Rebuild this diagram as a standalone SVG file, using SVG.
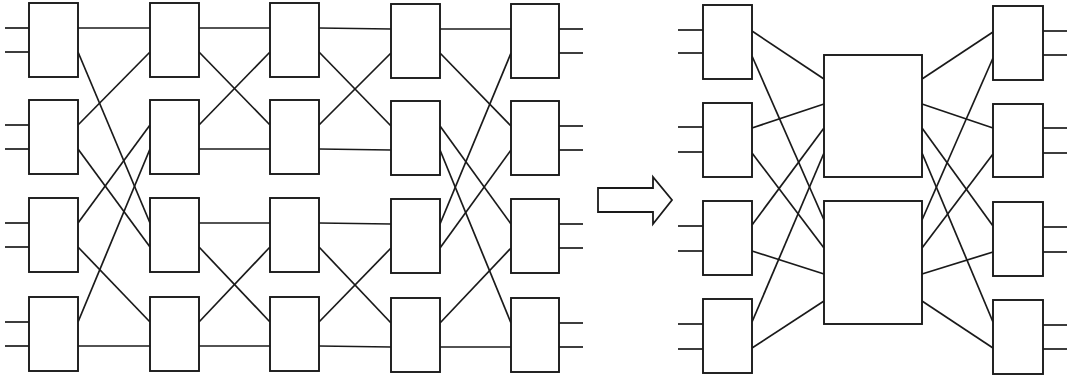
<svg xmlns="http://www.w3.org/2000/svg" width="1077" height="378" viewBox="0 0 1077 378">
<style>
.b{fill:#fff;stroke:#1a1a1a;stroke-width:1.9}
.c line,.s line{stroke:#1a1a1a;stroke-width:1.7;fill:none}
.a{fill:#fff;stroke:#1a1a1a;stroke-width:1.8;stroke-linejoin:miter}
</style>
<rect width="1077" height="378" fill="#fff"/>
<g id="connectors" class="c">
<line x1="78" y1="28" x2="150" y2="28"/>
<line x1="78" y1="52" x2="150" y2="223"/>
<line x1="78" y1="125" x2="150" y2="52"/>
<line x1="78" y1="149" x2="150" y2="247"/>
<line x1="78" y1="223" x2="150" y2="125"/>
<line x1="78" y1="247" x2="150" y2="322"/>
<line x1="78" y1="322" x2="150" y2="149"/>
<line x1="78" y1="346" x2="150" y2="346"/>
<line x1="199" y1="28" x2="270" y2="28"/>
<line x1="199" y1="52" x2="270" y2="125"/>
<line x1="199" y1="125" x2="270" y2="52"/>
<line x1="199" y1="149" x2="270" y2="149"/>
<line x1="199" y1="223" x2="270" y2="223"/>
<line x1="199" y1="247" x2="270" y2="322"/>
<line x1="199" y1="322" x2="270" y2="247"/>
<line x1="199" y1="346" x2="270" y2="346"/>
<line x1="319" y1="28" x2="391" y2="29"/>
<line x1="319" y1="52" x2="391" y2="126"/>
<line x1="319" y1="125" x2="391" y2="53"/>
<line x1="319" y1="149" x2="391" y2="150"/>
<line x1="319" y1="223" x2="391" y2="224"/>
<line x1="319" y1="247" x2="391" y2="323"/>
<line x1="319" y1="322" x2="391" y2="248"/>
<line x1="319" y1="346" x2="391" y2="347"/>
<line x1="440" y1="29" x2="511" y2="29"/>
<line x1="440" y1="53" x2="511" y2="126"/>
<line x1="440" y1="224" x2="511" y2="53"/>
<line x1="440" y1="248" x2="511" y2="150"/>
<line x1="440" y1="126" x2="511" y2="224"/>
<line x1="440" y1="323" x2="511" y2="248"/>
<line x1="440" y1="150" x2="511" y2="323"/>
<line x1="440" y1="347" x2="511" y2="347"/>
<line x1="752" y1="31" x2="824" y2="79"/>
<line x1="752" y1="56" x2="824" y2="220"/>
<line x1="752" y1="128" x2="824" y2="104"/>
<line x1="752" y1="153" x2="824" y2="248"/>
<line x1="752" y1="225" x2="824" y2="128"/>
<line x1="752" y1="251" x2="824" y2="274"/>
<line x1="752" y1="322" x2="824" y2="153"/>
<line x1="752" y1="348" x2="824" y2="301"/>
<line x1="922" y1="79" x2="993" y2="32"/>
<line x1="922" y1="220" x2="993" y2="58"/>
<line x1="922" y1="104" x2="993" y2="128"/>
<line x1="922" y1="248" x2="993" y2="154"/>
<line x1="922" y1="128" x2="993" y2="226"/>
<line x1="922" y1="274" x2="993" y2="252"/>
<line x1="922" y1="153" x2="993" y2="322"/>
<line x1="922" y1="301" x2="993" y2="348"/>
</g>
<g id="stubs" class="s">
<line x1="5" y1="28" x2="29" y2="28"/><line x1="5" y1="52" x2="29" y2="52"/>
<line x1="5" y1="125" x2="29" y2="125"/><line x1="5" y1="149" x2="29" y2="149"/>
<line x1="5" y1="223" x2="29" y2="223"/><line x1="5" y1="247" x2="29" y2="247"/>
<line x1="5" y1="322" x2="29" y2="322"/><line x1="5" y1="346" x2="29" y2="346"/>
<line x1="559" y1="29" x2="583" y2="29"/><line x1="559" y1="53" x2="583" y2="53"/>
<line x1="559" y1="126" x2="583" y2="126"/><line x1="559" y1="150" x2="583" y2="150"/>
<line x1="559" y1="224" x2="583" y2="224"/><line x1="559" y1="248" x2="583" y2="248"/>
<line x1="559" y1="323" x2="583" y2="323"/><line x1="559" y1="347" x2="583" y2="347"/>
<line x1="678" y1="30" x2="703" y2="30"/><line x1="678" y1="53" x2="703" y2="53"/>
<line x1="678" y1="127" x2="703" y2="127"/><line x1="678" y1="152" x2="703" y2="152"/>
<line x1="678" y1="226" x2="703" y2="226"/><line x1="678" y1="251" x2="703" y2="251"/>
<line x1="678" y1="324" x2="703" y2="324"/><line x1="678" y1="349" x2="703" y2="349"/>
<line x1="1043" y1="31" x2="1067" y2="31"/><line x1="1043" y1="55" x2="1067" y2="55"/>
<line x1="1043" y1="128" x2="1067" y2="128"/><line x1="1043" y1="153" x2="1067" y2="153"/>
<line x1="1043" y1="227" x2="1067" y2="227"/><line x1="1043" y1="252" x2="1067" y2="252"/>
<line x1="1043" y1="325" x2="1067" y2="325"/><line x1="1043" y1="349" x2="1067" y2="349"/>
</g>
<g id="c1r1"><rect class="b" x="29" y="3" width="49" height="74"/></g>
<g id="c1r2"><rect class="b" x="29" y="100" width="49" height="74"/></g>
<g id="c1r3"><rect class="b" x="29" y="198" width="49" height="74"/></g>
<g id="c1r4"><rect class="b" x="29" y="297" width="49" height="74"/></g>
<g id="c2r1"><rect class="b" x="150" y="3" width="49" height="74"/></g>
<g id="c2r2"><rect class="b" x="150" y="100" width="49" height="74"/></g>
<g id="c2r3"><rect class="b" x="150" y="198" width="49" height="74"/></g>
<g id="c2r4"><rect class="b" x="150" y="297" width="49" height="74"/></g>
<g id="c3r1"><rect class="b" x="270" y="3" width="49" height="74"/></g>
<g id="c3r2"><rect class="b" x="270" y="100" width="49" height="74"/></g>
<g id="c3r3"><rect class="b" x="270" y="198" width="49" height="74"/></g>
<g id="c3r4"><rect class="b" x="270" y="297" width="49" height="74"/></g>
<g id="c4r1"><rect class="b" x="391" y="4" width="49" height="74"/></g>
<g id="c4r2"><rect class="b" x="391" y="101" width="49" height="74"/></g>
<g id="c4r3"><rect class="b" x="391" y="199" width="49" height="74"/></g>
<g id="c4r4"><rect class="b" x="391" y="298" width="49" height="74"/></g>
<g id="c5r1"><rect class="b" x="511" y="4" width="48" height="74"/></g>
<g id="c5r2"><rect class="b" x="511" y="101" width="48" height="74"/></g>
<g id="c5r3"><rect class="b" x="511" y="199" width="48" height="74"/></g>
<g id="c5r4"><rect class="b" x="511" y="298" width="48" height="74"/></g>
<g id="arrow"><polygon class="a" points="598,188 653,188 653,177 672,200 653,224 653,212 598,212"/></g>
<g id="lr1"><rect class="b" x="703" y="5" width="49" height="74"/></g>
<g id="lr2"><rect class="b" x="703" y="103" width="49" height="74"/></g>
<g id="lr3"><rect class="b" x="703" y="201" width="49" height="74"/></g>
<g id="lr4"><rect class="b" x="703" y="299" width="49" height="74"/></g>
<g id="bigUpper"><rect class="b" x="824" y="55" width="98" height="122"/></g>
<g id="bigLower"><rect class="b" x="824" y="201" width="98" height="123"/></g>
<g id="rr1"><rect class="b" x="993" y="6" width="50" height="74"/></g>
<g id="rr2"><rect class="b" x="993" y="104" width="50" height="73"/></g>
<g id="rr3"><rect class="b" x="993" y="202" width="50" height="74"/></g>
<g id="rr4"><rect class="b" x="993" y="300" width="50" height="74"/></g>
</svg>
